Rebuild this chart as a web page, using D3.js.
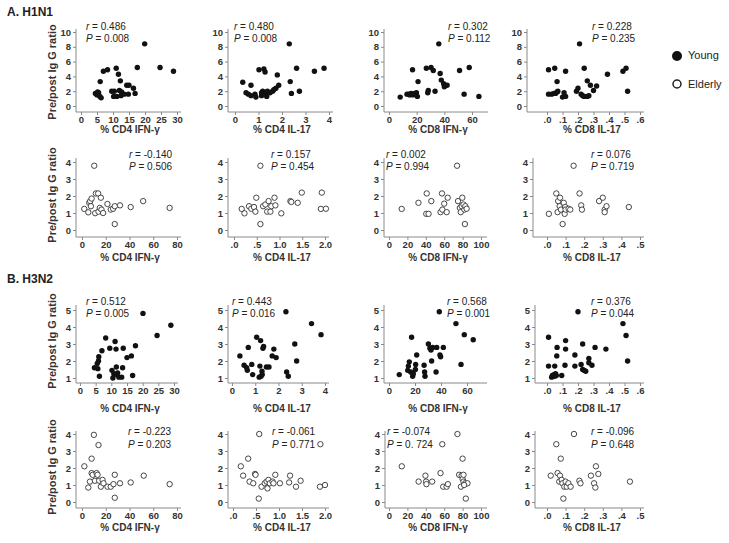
<!DOCTYPE html>
<html><head><meta charset="utf-8">
<script src="https://cdn.jsdelivr.net/npm/d3@7"></script>
<style>body{margin:0;background:#fff} svg{display:block;font-family:"Liberation Sans",Arial,sans-serif}</style>
</head><body><svg id="c" width="729" height="543"></svg>
<script>
// ---------- DATA ----------
const sectionTitles = ["A. H1N1", "B. H3N2"];
const xTitles = ["% CD4 IFN-γ", "% CD4 IL-17", "% CD8 IFN-γ", "% CD8 IL-17"];
const yTitle = "Pre/post Ig G ratio";
const legendLabels = ["Young", "Elderly"];

const rA1 = ["0.486", "0.480", "0.302", "0.228"];
const pA1 = ["0.008", "0.008", "0.112", "0.235"];
const rA2 = ["-0.140", "0.157", "0.002", "0.076"];
const pA2 = ["0.506", "0.454", "0.994", "0.719"];
const rB1 = ["0.512", "0.443", "0.568", "0.376"];
const pB1 = ["0.005", "0.016", "0.001", "0.044"];
const rB2 = ["-0.223", "-0.061", "-0.074", "-0.096"];
const pB2 = ["0.203", "0.771", "0. 724", "0.648"];

// H1N1 young
const a1CD4IFN = [[19.9,8.4],[7.0,4.7],[8.3,4.9],[11.0,5.1],[17.6,5.2],[24.7,5.2],[28.9,4.7],[11.7,4.3],[6.0,3.3],[12.3,3.4],[14.3,2.8],[15.0,2.8],[16.4,2.4],[16.9,1.7],[9.6,2.0],[10.4,2.0],[12.0,2.1],[12.7,1.9],[4.5,1.7],[5.0,1.5],[5.5,1.8],[5.9,1.3],[6.3,1.1],[5.2,1.9],[10.2,1.3],[11.2,1.3],[12.5,1.4],[13.5,1.6],[14.8,1.6]];
const a1CD4IL17 = [[2.31,8.4],[0.33,3.2],[0.47,1.8],[0.57,1.6],[0.68,2.8],[0.68,1.4],[0.85,1.6],[0.89,1.2],[1.02,4.9],[1.13,1.8],[1.18,2.0],[1.23,5.0],[1.28,4.6],[1.28,1.6],[1.35,1.3],[1.38,2.0],[1.49,1.8],[1.60,2.0],[1.65,2.2],[1.74,2.4],[1.80,4.2],[1.86,2.8],[1.13,1.4],[2.35,3.3],[2.40,1.7],[2.62,5.1],[2.74,2.0],[3.38,4.7],[3.79,5.1]];
const a1CD8IFN = [[36,8.4],[8.1,1.2],[17,4.9],[14.3,1.6],[16,1.7],[17.3,1.5],[18.5,1.7],[19.8,1.8],[21,3.3],[20.5,1.3],[13,1.6],[15,1.5],[27,5.1],[30.4,5.2],[32,4.8],[28,1.8],[28.4,2.1],[33.3,2.0],[37,4.4],[37.8,3.5],[39.5,3.0],[40,2.6],[42,2.8],[51,4.8],[58,5.2],[54.3,1.6],[65,1.3]];
const a1CD8IL17 = [[0.01,4.9],[0.05,5.1],[0.12,4.7],[0.24,5.1],[0.065,3.3],[0.26,3.4],[0.39,4.3],[0.49,4.7],[0.51,5.1],[0.52,2.0],[0.21,8.4],[0.01,1.6],[0.03,1.6],[0.045,1.7],[0.055,1.7],[0.065,1.9],[0.07,2.0],[0.1,1.2],[0.11,1.8],[0.12,1.3],[0.19,2.0],[0.2,2.4],[0.22,1.6],[0.23,1.4],[0.24,1.3],[0.26,1.3],[0.27,1.4],[0.28,2.8],[0.3,2.1],[0.32,2.7]];
// H1N1 elderly
const a2CD4IFN = [[10.3,3.78],[1.9,1.24],[5.3,1.04],[6.1,1.6],[6.9,1.7],[8.1,1.85],[7.5,1.4],[11.7,2.15],[13.6,2.15],[15.9,1.9],[11.1,0.99],[13.9,1.08],[15,1.3],[16.4,1.2],[17.8,1.0],[21.4,1.53],[24.2,1.2],[26.2,1.25],[27.6,1.4],[27.6,0.35],[32,1.45],[41,1.35],[51.5,1.7],[73.8,1.3]];
const a2CD4IL17 = [[0.58,3.78],[0.17,1.24],[0.23,0.98],[0.33,1.4],[0.38,1.25],[0.44,1.35],[0.47,1.08],[0.49,1.9],[0.58,0.35],[0.64,1.4],[0.69,1.5],[0.73,1.08],[0.76,1.7],[0.8,1.08],[0.82,1.4],[0.89,1.9],[0.91,1.45],[1.04,0.98],[1.24,1.7],[1.26,1.65],[1.4,1.6],[1.49,2.2],[1.93,2.2],[1.91,1.24],[2.02,1.25]];
const a2CD8IFN = [[13.8,1.24],[32,1.6],[41,2.15],[40.5,0.95],[43,0.95],[46,1.7],[56,1.05],[57.6,2.15],[58,1.2],[60,1.55],[62.7,1.05],[63.8,1.9],[74,3.78],[75,1.7],[77,1.3],[78,1.05],[79.7,1.9],[79,1.4],[81,1.5],[82,1.2],[82.5,0.35],[83,1.4],[84.4,1.25]];
const a2CD8IL17 = [[0.01,0.95],[0.05,2.15],[0.057,1.05],[0.06,1.7],[0.07,1.9],[0.068,1.4],[0.075,1.2],[0.084,0.35],[0.09,1.6],[0.095,0.95],[0.098,1.35],[0.1,1.2],[0.116,1.25],[0.125,1.2],[0.143,3.78],[0.175,2.15],[0.184,1.45],[0.188,1.2],[0.28,1.7],[0.3,1.9],[0.31,1.2],[0.31,1.05],[0.32,1.4],[0.44,1.35]];
// H3N2 young
const b1CD4IFN = [[20.1,4.8],[29,4.1],[24.6,3.5],[17.7,2.9],[8.2,3.35],[11.2,3.15],[7.0,2.6],[9.5,2.75],[11.5,2.7],[13.8,2.75],[15.0,2.2],[16.4,2.3],[6.0,2.25],[5.9,2.0],[5.5,1.85],[4.6,1.6],[5.7,1.55],[10.2,1.45],[11.6,1.65],[10.8,1.25],[11.7,1.2],[13.6,1.6],[6.2,1.1],[10.5,1.0],[12.4,1.05],[13.3,1.05],[16.8,1.15],[12.0,1.3]];
const b1CD4IL17 = [[2.32,4.9],[3.42,4.2],[3.83,3.55],[0.34,2.3],[0.7,2.8],[0.52,1.75],[0.63,1.6],[0.66,1.45],[0.85,1.8],[0.89,1.2],[1.06,3.4],[1.17,1.05],[1.2,1.7],[1.23,3.2],[1.29,1.4],[1.3,1.2],[1.33,2.75],[1.36,2.85],[1.48,1.65],[1.59,1.65],[1.73,2.3],[1.8,2.7],[1.9,2.2],[2.35,1.35],[2.42,1.1],[2.7,3.0],[2.78,2.0],[1.25,1.1]];
const b1CD8IFN = [[7.9,1.2],[14.9,1.7],[15.6,1.95],[14.4,1.45],[16.7,1.35],[18.2,1.1],[18.7,1.25],[17.4,3.4],[20.5,1.8],[20.3,1.5],[21.3,2.35],[27,1.75],[27.4,1.35],[27.7,1.1],[30.3,3.0],[31.5,2.75],[32.3,2.65],[33.6,2.8],[32.8,2.0],[36.2,1.35],[36.7,2.8],[39.2,2.35],[39.7,2.25],[41.8,2.8],[38.7,4.9],[51.5,4.2],[57.9,3.55],[64.8,3.25],[55.4,1.8]];
const b1CD8IL17 = [[0.01,3.4],[0.01,1.7],[0.05,1.7],[0.035,1.15],[0.03,1.05],[0.045,1.2],[0.05,1.1],[0.055,1.25],[0.06,1.15],[0.065,2.8],[0.063,2.3],[0.095,1.15],[0.116,1.75],[0.12,3.2],[0.12,2.7],[0.18,2.35],[0.18,1.7],[0.2,4.9],[0.22,1.8],[0.23,1.5],[0.23,3.0],[0.24,1.45],[0.25,1.4],[0.27,1.9],[0.27,2.15],[0.29,1.75],[0.31,2.8],[0.38,2.7],[0.49,4.2],[0.51,3.5],[0.52,2.0]];
// H3N2 elderly
const b2CD4IFN = [[2,2.1],[5.3,0.85],[6.7,1.2],[8.1,2.55],[8.1,1.7],[10,3.95],[9,1.6],[10.9,1.25],[12.3,1.7],[13.1,1.6],[13.9,3.35],[14.5,1.25],[15.9,0.9],[17.3,1.3],[18.1,1.1],[21.5,0.9],[24.2,0.9],[26.5,1.05],[27.6,1.6],[27.6,0.25],[32,1.1],[41,1.15],[52,1.55],[73.8,1.05]];
const b2CD4IL17 = [[0.17,2.1],[0.22,1.55],[0.33,2.55],[0.36,1.2],[0.44,1.1],[0.48,1.65],[0.49,1.6],[0.57,4.0],[0.56,0.2],[0.62,0.9],[0.69,1.1],[0.73,1.2],[0.75,0.8],[0.77,1.3],[0.8,1.1],[0.86,1.2],[0.88,1.1],[0.92,1.6],[1.02,1.1],[1.22,1.15],[1.24,1.55],[1.37,0.9],[1.47,1.25],[1.9,3.4],[1.89,0.9],[2.0,1.0]];
const b2CD8IFN = [[13.9,2.1],[32.2,1.2],[39.6,1.55],[40.3,1.2],[40.7,1.05],[46.9,1.2],[57.9,3.4],[56,1.7],[58.9,0.9],[62.6,0.9],[64,1.05],[74.4,4.0],[76.2,1.6],[80,2.55],[78.2,0.9],[79,1.55],[80,1.35],[81,1.2],[81,1.6],[82.8,1.1],[85.3,1.1],[83.5,0.2],[81.7,1.0]];
const b2CD8IL17 = [[0.02,1.55],[0.05,3.4],[0.057,1.7],[0.066,1.2],[0.07,1.55],[0.074,2.55],[0.079,1.3],[0.083,1.1],[0.088,0.2],[0.093,0.9],[0.1,1.2],[0.106,0.9],[0.115,1.1],[0.127,0.9],[0.145,4.0],[0.174,1.25],[0.18,1.1],[0.236,1.55],[0.263,2.1],[0.276,1.65],[0.253,1.1],[0.26,0.85],[0.446,1.2]];

// ---------- LAYOUT ----------
const svg = d3.select("#c");
const FONT = '"Liberation Sans",Arial,sans-serif';
const AXIS = "#8a8a8a", TXT = "#222";

const dotFmt = d => { const s = d3.format(".1f")(d); return s.startsWith("0") ? s.slice(1) : s; };
const intFmt = d3.format("d");

const colsA1 = [
  {dom:[0,30], rng:[81,177], ax:76, end:181, ticks:[0,5,10,15,20,25,30], fmt:intFmt, stat:86},
  {dom:[0,4], rng:[235,329], ax:228, end:333, ticks:[0,1,2,3,4], fmt:intFmt, stat:234},
  {dom:[0,60], rng:[389,472], ax:384, end:488, ticks:[0,20,40,60], fmt:intFmt, stat:448},
  {dom:[0,0.6], rng:[547,640], ax:527, end:644, ticks:[0,.1,.2,.3,.4,.5,.6], fmt:dotFmt, stat:592}];
const colsA2 = [
  {dom:[0,80], rng:[82,177], ax:76, end:181, ticks:[0,20,40,60,80], fmt:intFmt, stat:129},
  {dom:[0,2], rng:[234,325], ax:228, end:329, ticks:[0,.5,1,1.5,2], fmt:dotFmt, stat:271},
  {dom:[0,100], rng:[389,481], ax:384, end:487, ticks:[0,20,40,60,80,100], fmt:intFmt, stat:386},
  {dom:[0,0.5], rng:[547,640], ax:533, end:644, ticks:[0,.1,.2,.3,.4,.5], fmt:dotFmt, stat:591}];
const colsB1 = [
  {dom:[0,30], rng:[80,174], ax:76, end:178, ticks:[0,5,10,15,20,25,30], fmt:intFmt, stat:86},
  {dom:[0,4], rng:[232,325], ax:228, end:329, ticks:[0,1,2,3,4], fmt:intFmt, stat:232},
  {dom:[0,60], rng:[389,467], ax:384, end:487, ticks:[0,20,40,60], fmt:intFmt, stat:447},
  {dom:[0,0.6], rng:[547,640], ax:535, end:644, ticks:[0,.1,.2,.3,.4,.5,.6], fmt:dotFmt, stat:591}];
const colsB2 = [
  {dom:[0,80], rng:[82,177], ax:76, end:181, ticks:[0,20,40,60,80], fmt:intFmt, stat:128},
  {dom:[0,2], rng:[233,325], ax:228, end:329, ticks:[0,.5,1,1.5,2], fmt:dotFmt, stat:272},
  {dom:[0,100], rng:[389,481], ax:385, end:487, ticks:[0,20,40,60,80,100], fmt:intFmt, stat:387},
  {dom:[0,0.5], rng:[547,640], ax:535, end:644, ticks:[0,.1,.2,.3,.4,.5], fmt:dotFmt, stat:591}];
const titleX = [130, 282, 438, 592];

const rows = [
  {cols:colsA1, data:[a1CD4IFN,a1CD4IL17,a1CD8IFN,a1CD8IL17], r:rA1, p:pA1, filled:true,
   yDom:[0,10], yRng:[106,32], yTicks:[0,2,4,6,8,10], top:29, xAxisY:112, titleY:133, statY:[29.5,41.5], ylab:72},
  {cols:colsA2, data:[a2CD4IFN,a2CD4IL17,a2CD8IFN,a2CD8IL17], r:rA2, p:pA2, filled:false,
   yDom:[0,4], yRng:[230,162], yTicks:[0,1,2,3,4], top:158, xAxisY:237, titleY:261, statY:[157.5,169.5], ylab:195},
  {cols:colsB1, data:[b1CD4IFN,b1CD4IL17,b1CD8IFN,b1CD8IL17], r:rB1, p:pB1, filled:true,
   yDom:[1,5], yRng:[378,310], yTicks:[1,2,3,4,5], top:305, xAxisY:383, titleY:412, statY:[305,317], ylab:341},
  {cols:colsB2, data:[b2CD4IFN,b2CD4IL17,b2CD8IFN,b2CD8IL17], r:rB2, p:pB2, filled:false,
   yDom:[0,4], yRng:[502,434], yTicks:[0,1,2,3,4], top:431, xAxisY:508, titleY:531, statY:[435,447.5], ylab:467}
];

// section titles
svg.append("text").attr("x",7).attr("y",16).text(sectionTitles[0])
  .attr("font-size",12).attr("font-weight","bold").attr("fill",TXT);
svg.append("text").attr("x",7).attr("y",283).text(sectionTitles[1])
  .attr("font-size",12).attr("font-weight","bold").attr("fill",TXT);

function styleAxis(g){
  g.select(".domain").remove();
  g.selectAll(".tick line").attr("stroke",AXIS);
  g.selectAll(".tick text").attr("fill","#333").attr("font-size",9.5)
    .attr("font-weight","bold").attr("font-family",FONT);
}

rows.forEach(row => {
  const y = d3.scaleLinear().domain(row.yDom).range(row.yRng);
  svg.append("text").attr("transform",`translate(56,${row.ylab}) rotate(-90)`)
    .attr("text-anchor","middle").attr("font-size",11).attr("font-weight","bold")
    .attr("fill","#333").text(yTitle);
  row.cols.forEach((c,i) => {
    const x = d3.scaleLinear().domain(c.dom).range(c.rng);
    const g = svg.append("g");
    g.append("line").attr("x1",c.ax).attr("x2",c.ax).attr("y1",row.top).attr("y2",row.xAxisY)
      .attr("stroke",AXIS).attr("stroke-width",1);
    g.append("line").attr("x1",c.ax).attr("x2",c.end).attr("y1",row.xAxisY).attr("y2",row.xAxisY)
      .attr("stroke",AXIS).attr("stroke-width",1);
    g.append("g").attr("transform",`translate(0,${row.xAxisY})`)
      .call(d3.axisBottom(x).tickValues(c.ticks).tickFormat(c.fmt).tickSize(3).tickPadding(1))
      .call(styleAxis);
    g.append("g").attr("transform",`translate(${c.ax},0)`)
      .call(d3.axisLeft(y).tickValues(row.yTicks).tickFormat(intFmt).tickSize(3).tickPadding(2))
      .call(styleAxis);
    g.selectAll("circle.pt").data(row.data[i]).join("circle").attr("class","pt")
      .attr("cx",d=>x(d[0])).attr("cy",d=>y(d[1]))
      .attr("r", row.filled ? 2.7 : 2.7)
      .attr("fill", row.filled ? "#111" : "#fff")
      .attr("stroke", row.filled ? "none" : "#333")
      .attr("stroke-width", 0.9);
    const t1 = g.append("text").attr("x",c.stat).attr("y",row.statY[0]).attr("font-size",10).attr("fill",TXT);
    t1.append("tspan").attr("font-style","italic").text("r");
    t1.append("tspan").text(" = " + row.r[i]);
    const t2 = g.append("text").attr("x",c.stat).attr("y",row.statY[1]).attr("font-size",10).attr("fill",TXT);
    t2.append("tspan").attr("font-style","italic").text("P");
    t2.append("tspan").text(" = " + row.p[i]);
    g.append("text").attr("x",titleX[i]).attr("y",row.titleY).attr("text-anchor","middle")
      .attr("font-size",10).attr("font-weight","bold").attr("fill","#333").text(xTitles[i]);
  });
});

// legend
const lg = svg.append("g");
lg.append("circle").attr("cx",677).attr("cy",56).attr("r",5).attr("fill","#111");
lg.append("text").attr("x",688).attr("y",59).attr("font-size",11).attr("fill",TXT).text(legendLabels[0]);
lg.append("circle").attr("cx",677).attr("cy",84).attr("r",4).attr("fill","#fff").attr("stroke","#222").attr("stroke-width",1.5);
lg.append("text").attr("x",688).attr("y",88).attr("font-size",11).attr("fill",TXT).text(legendLabels[1]);
</script></body></html>
